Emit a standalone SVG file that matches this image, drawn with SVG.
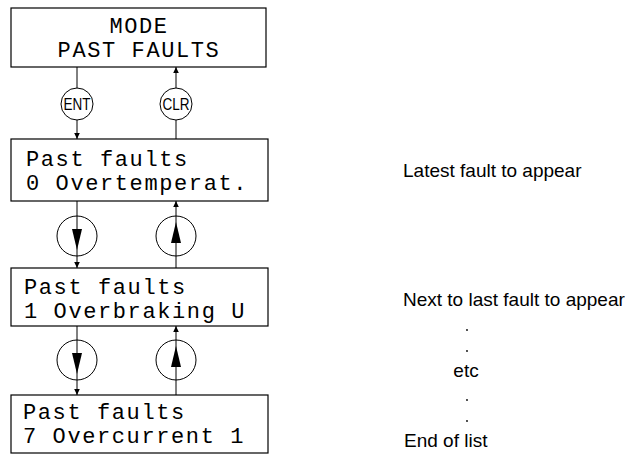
<svg xmlns="http://www.w3.org/2000/svg" width="631" height="456" viewBox="0 0 631 456">
<style>
.box{fill:#fff;stroke:#000;stroke-width:1.2}
.lcd{font-family:"Liberation Mono",monospace;font-size:22px;letter-spacing:1.6px;fill:#000}
.btn{fill:#fff;stroke:#000;stroke-width:1}
.bt{font-family:"Liberation Sans",Arial,sans-serif;font-size:16px;fill:#000;text-anchor:middle}
.ln{stroke:#000;stroke-width:1;fill:none}
.note{font-family:"Liberation Sans",Arial,sans-serif;font-size:19px;fill:#000}
</style>
<defs>
<marker id="sa" markerWidth="6" markerHeight="8" refX="6" refY="4" orient="auto" markerUnits="userSpaceOnUse">
<path d="M0,1.2 L6,4 L0,6.8 Z" fill="#000"/>
</marker>
</defs>
<g id="connectors">
<line class="ln" x1="77" y1="67" x2="77" y2="88"/>
<line class="ln" x1="77" y1="120" x2="77" y2="139" marker-end="url(#sa)"/>
<line class="ln" x1="176" y1="139" x2="176" y2="120"/>
<line class="ln" x1="176" y1="88" x2="176" y2="67" marker-end="url(#sa)"/>
<line class="ln" x1="77" y1="201" x2="77" y2="268" marker-end="url(#sa)"/>
<line class="ln" x1="176" y1="268" x2="176" y2="201" marker-end="url(#sa)"/>
<line class="ln" x1="77" y1="326" x2="77" y2="395" marker-end="url(#sa)"/>
<line class="ln" x1="176" y1="395" x2="176" y2="326" marker-end="url(#sa)"/>
</g>
<g id="mode">
<rect class="box" x="11" y="8" width="255" height="59"/>
<text class="lcd" x="139" y="33" text-anchor="middle">MODE</text>
<text class="lcd" x="139" y="57" text-anchor="middle">PAST FAULTS</text>
</g>
<g id="ent">
<circle class="btn" cx="77" cy="104" r="16"/>
<text class="bt" x="77" y="110" textLength="27" lengthAdjust="spacingAndGlyphs">ENT</text>
</g>
<g id="clr">
<circle class="btn" cx="176" cy="104" r="16"/>
<text class="bt" x="176" y="110" textLength="27" lengthAdjust="spacingAndGlyphs">CLR</text>
</g>
<g id="fault0">
<rect class="box" x="11" y="139" width="257" height="62"/>
<text class="lcd" x="26" y="166">Past faults</text>
<text class="lcd" x="26" y="190">0 Overtemperat.</text>
</g>
<g id="down1">
<circle class="btn" cx="77" cy="236" r="20" fill="none"/>
<line class="ln" x1="77" y1="216" x2="77" y2="256"/>
<path d="M72,229 L82,229 L77,250 Z" fill="#000"/>
</g>
<g id="up1">
<circle class="btn" cx="176" cy="236" r="20" fill="none"/>
<line class="ln" x1="176" y1="216" x2="176" y2="256"/>
<path d="M171,243 L181,243 L176,222 Z" fill="#000"/>
</g>
<g id="fault1">
<rect class="box" x="11" y="268" width="257" height="58"/>
<text class="lcd" x="24" y="294">Past faults</text>
<text class="lcd" x="24" y="318">1 Overbraking U</text>
</g>
<g id="down2">
<circle class="btn" cx="77" cy="360" r="20" fill="none"/>
<line class="ln" x1="77" y1="340" x2="77" y2="380"/>
<path d="M72,353 L82,353 L77,374 Z" fill="#000"/>
</g>
<g id="up2">
<circle class="btn" cx="176" cy="360" r="20" fill="none"/>
<line class="ln" x1="176" y1="340" x2="176" y2="380"/>
<path d="M171,367 L181,367 L176,346 Z" fill="#000"/>
</g>
<g id="fault7">
<rect class="box" x="11" y="395" width="257" height="58"/>
<text class="lcd" x="23" y="419">Past faults</text>
<text class="lcd" x="23" y="443">7 Overcurrent 1</text>
</g>
<g id="notes">
<text class="note" x="403" y="177">Latest fault to appear</text>
<text class="note" x="403" y="306">Next to last fault to appear</text>
<circle cx="467" cy="330" r="0.9" fill="#000"/>
<circle cx="467" cy="351" r="0.9" fill="#000"/>
<text class="note" x="466" y="377" text-anchor="middle">etc</text>
<circle cx="467" cy="400" r="0.9" fill="#000"/>
<circle cx="467" cy="421" r="0.9" fill="#000"/>
<text class="note" x="404" y="447">End of list</text>
</g>
</svg>
